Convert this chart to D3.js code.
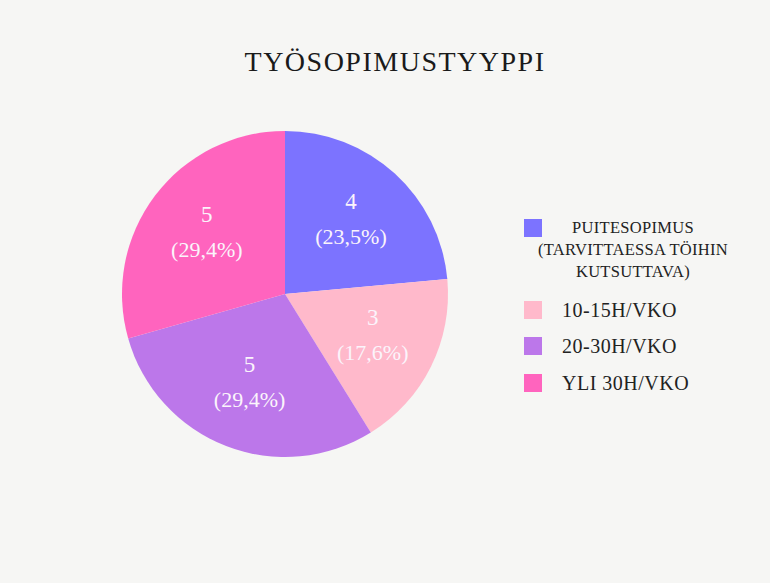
<!DOCTYPE html>
<html>
<head>
<meta charset="utf-8">
<script src="https://cdn.jsdelivr.net/npm/d3@7"></script>
<style>
  body { margin: 0; background: #f6f6f4; }
  svg { display: block; }
</style>
</head>
<body>
<svg id="chart" width="770" height="583"></svg>
<script>
// data
const categories = ["PUITESOPIMUS (TARVITTAESSA TÖIHIN KUTSUTTAVA)", "10-15H/VKO", "20-30H/VKO", "YLI 30H/VKO"];
const legendLines = [["PUITESOPIMUS", "(TARVITTAESSA TÖIHIN", "KUTSUTTAVA)"], ["10-15H/VKO"], ["20-30H/VKO"], ["YLI 30H/VKO"]];
const values = [4, 3, 5, 5];
const colors = ["#7c73ff", "#ffb9cb", "#bc77ea", "#ff64be"];

const svg = d3.select("#chart");
const W = 770, H = 583;
const cx = 285, cy = 294, r = 163;
const serif = "'Liberation Serif', 'DejaVu Serif', serif";

svg.append("rect").attr("width", W).attr("height", H).attr("fill", "#f6f6f4");

svg.append("text")
  .attr("x", 395).attr("y", 71)
  .attr("text-anchor", "middle")
  .attr("font-family", serif)
  .attr("font-size", 28)
  .attr("letter-spacing", 1.5)
  .attr("fill", "#1a1a1a")
  .text("TYÖSOPIMUSTYYPPI");

const total = d3.sum(values);
const pie = d3.pie().sort(null).value(d => d);
const arc = d3.arc().innerRadius(0).outerRadius(r);
const labelArc = d3.arc().innerRadius(98).outerRadius(98);
const fmt = v => (v / total * 100).toFixed(1).replace(".", ",") + "%";

const g = svg.append("g").attr("transform", `translate(${cx},${cy})`);
const arcs = pie(values);

g.selectAll("path")
  .data(arcs)
  .enter()
  .append("path")
  .attr("d", arc)
  .attr("fill", (d, i) => colors[i]);

const lbl = g.selectAll("g.lbl")
  .data(arcs)
  .enter()
  .append("g")
  .attr("class", "lbl")
  .attr("transform", d => {
    const c = labelArc.centroid(d);
    return `translate(${c[0]},${c[1] - 6})`;
  });

lbl.append("text")
  .attr("text-anchor", "middle")
  .attr("y", -7)
  .attr("font-family", serif)
  .attr("font-size", 23)
  .attr("fill", "#fbf4fb")
  .text(d => d.data);

lbl.append("text")
  .attr("text-anchor", "middle")
  .attr("y", 28)
  .attr("font-family", serif)
  .attr("font-size", 22)
  .attr("fill", "#fbf4fb")
  .text(d => "(" + fmt(d.data) + ")");

// legend
const legendY = [219, 301, 337, 374];
const leg = svg.append("g");
categories.forEach((c, i) => {
  leg.append("rect")
    .attr("x", 524).attr("y", legendY[i])
    .attr("width", 18).attr("height", 18)
    .attr("fill", colors[i]);
  const lines = legendLines[i];
  if (lines.length > 1) {
    lines.forEach((t, j) => {
      leg.append("text")
        .attr("x", 633).attr("y", 233 + j * 22)
        .attr("text-anchor", "middle")
        .attr("font-family", serif)
        .attr("font-size", 16.5)
        .attr("letter-spacing", 0.3)
        .attr("fill", "#222")
        .text(t);
    });
  } else {
    leg.append("text")
      .attr("x", 562).attr("y", legendY[i] + 16)
      .attr("font-family", serif)
      .attr("font-size", 20)
      .attr("letter-spacing", 0.5)
      .attr("fill", "#222")
      .text(lines[0]);
  }
});
</script>
</body>
</html>
